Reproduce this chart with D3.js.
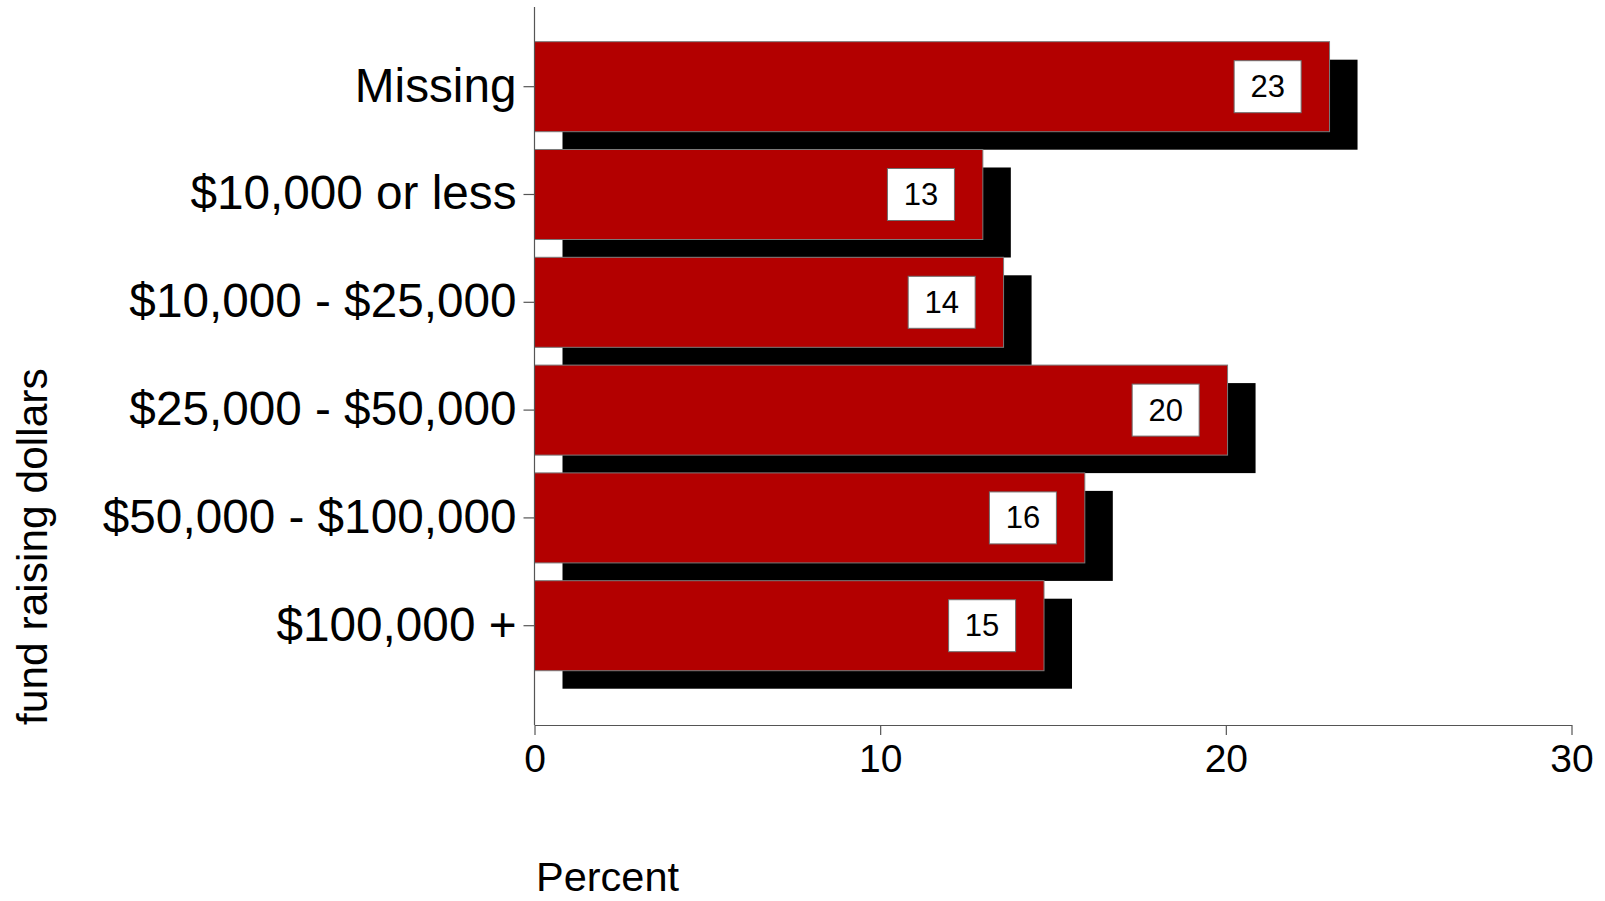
<!DOCTYPE html>
<html>
<head>
<meta charset="utf-8">
<script src="https://cdn.jsdelivr.net/npm/d3@7/dist/d3.min.js"></script>
<style>
  html, body { margin: 0; padding: 0; background: #fff; }
  svg { display: block; font-family: "Liberation Sans", Arial, sans-serif; }
</style>
</head>
<body>
<svg id="chart" width="1605" height="901"></svg>
<script>
const categories = ["Missing", "$10,000 or less", "$10,000 - $25,000", "$25,000 - $50,000", "$50,000 - $100,000", "$100,000 +"];
const values = [23.0, 12.97, 13.57, 20.05, 15.92, 14.74];
const xTicks = [0, 10, 20, 30];
const xTitle = "Percent";
const yTitle = "fund raising dollars";

const svg = d3.select("#chart");

const x = d3.scaleLinear().domain([0, 30]).range([534.5, 1571.5]);
const y = d3.scaleBand().domain(categories).range([23.9, 688.5]).padding(0.165);

const shadowDx = 28, shadowDy = 18;
const red = "#b30000";

const data = categories.map((c, i) => ({ c, v: values[i] }));

// shadows
svg.append("g").selectAll("rect").data(data).join("rect")
  .attr("x", x(0) + shadowDx)
  .attr("y", d => y(d.c) + shadowDy)
  .attr("width", d => x(d.v) - x(0))
  .attr("height", y.bandwidth())
  .attr("fill", "#000");

// red bars
svg.append("g").selectAll("rect").data(data).join("rect")
  .attr("x", x(0))
  .attr("y", d => y(d.c))
  .attr("width", d => x(d.v) - x(0))
  .attr("height", y.bandwidth())
  .attr("fill", red)
  .attr("stroke", "#7a7a7a")
  .attr("stroke-width", 1);

// value label boxes
const boxW = 67, boxH = 52, boxGap = 28.4;
const lab = svg.append("g").selectAll("g").data(data).join("g");
lab.append("rect")
  .attr("x", d => x(d.v) - boxGap - boxW)
  .attr("y", d => y(d.c) + y.bandwidth() / 2 - boxH / 2)
  .attr("width", boxW)
  .attr("height", boxH)
  .attr("fill", "#fff")
  .attr("stroke", "#6e6e6e")
  .attr("stroke-width", 1);
lab.append("text")
  .attr("x", d => x(d.v) - boxGap - boxW / 2)
  .attr("y", d => y(d.c) + y.bandwidth() / 2 + 10.5)
  .attr("text-anchor", "middle")
  .attr("font-size", 31)
  .attr("fill", "#000")
  .text(d => d3.format(".0f")(d.v));

// x axis
const xAxis = svg.append("g")
  .attr("transform", `translate(0,725)`)
  .call(d3.axisBottom(x).tickValues(xTicks).tickSize(10).tickSizeOuter(0).tickPadding(8));
xAxis.select(".domain").attr("stroke", "#555").attr("stroke-width", 1.2);
xAxis.selectAll(".tick line").attr("stroke", "#555").attr("stroke-width", 1.2);
xAxis.selectAll(".tick text")
  .attr("font-size", 39)
  .attr("font-family", "Liberation Sans, Arial, sans-serif")
  .attr("fill", "#000")
  .attr("dy", null)
  .attr("y", 46.7);

// y axis
const yAxisG = svg.append("g").attr("transform", `translate(${x(0)},0)`);
yAxisG.append("line")
  .attr("x1", 0).attr("x2", 0).attr("y1", 7).attr("y2", 725)
  .attr("stroke", "#555").attr("stroke-width", 1.2);
const yAx = yAxisG.append("g")
  .call(d3.axisLeft(y).tickSize(11).tickSizeOuter(0).tickPadding(7));
yAx.select(".domain").remove();
yAx.selectAll(".tick line").attr("stroke", "#555").attr("stroke-width", 1.2);
yAx.selectAll(".tick text")
  .attr("font-size", 47.7)
  .attr("font-family", "Liberation Sans, Arial, sans-serif")
  .attr("fill", "#000")
  .attr("dy", "0")
  .attr("y", 15);

// axis titles
svg.append("text")
  .attr("x", 536).attr("y", 891)
  .attr("font-size", 41.5)
  .attr("fill", "#000")
  .text(xTitle);

svg.append("text")
  .attr("transform", "translate(47,725) rotate(-90)")
  .attr("font-size", 42.5)
  .attr("fill", "#000")
  .text(yTitle);
</script>
</body>
</html>
